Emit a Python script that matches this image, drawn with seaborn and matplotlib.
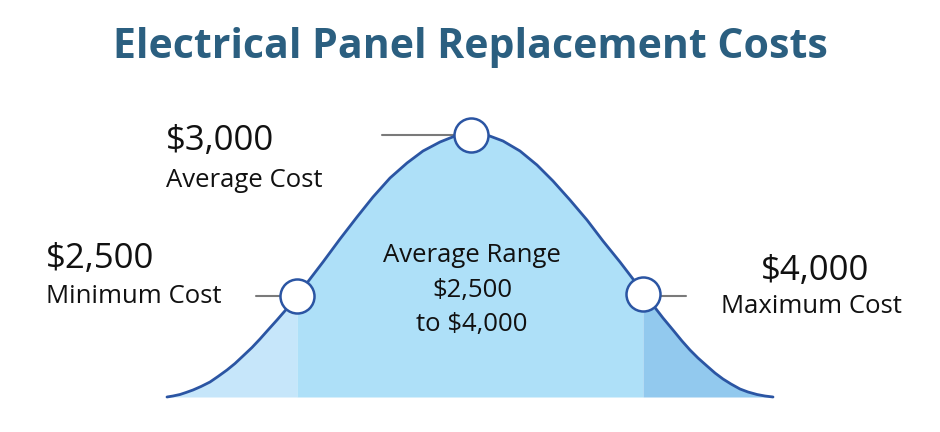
import matplotlib
matplotlib.use("Agg")
import matplotlib.pyplot as plt
import seaborn as sns
import pandas as pd

# bell curve (position along the base, height above base)
curve_x = [0, 6, 13, 19, 26, 34, 43, 51, 60, 68, 76, 85, 93, 101, 110, 120, 130,
           143, 156, 173, 190, 206, 223, 240, 256, 273, 288, 304,
           320, 336, 353, 370, 386, 403, 420, 436, 453, 466, 476,
           486, 496, 506, 515, 523, 531, 540, 548, 556, 564, 573, 581, 590, 598, 606]
curve_h = [0, 1, 2.5, 4.5, 7, 10.5, 15, 20.5, 27, 33.5, 41, 49.5, 58, 67, 77, 88.5, 101,
           118, 135, 158, 180, 200, 219, 234, 246, 255, 261, 263,
           262, 256, 246, 232, 216, 197, 177, 156, 135, 118, 105,
           92, 79, 67, 56, 47, 39, 31, 24, 18, 13, 8, 5, 2.5, 1, 0]

# marked points: minimum, average, maximum
point_x = [130, 304, 476]
point_h = [101, 262, 103]
prices = ["$2,500", "$3,000", "$4,000"]
labels = ["Minimum Cost", "Average Cost", "Maximum Cost"]
title = "Electrical Panel Replacement Costs"
range_text = "Average Range\n$2,500\nto $4,000"

line_col = "#2b55a3"
fill_left = "#c6e6fa"
fill_mid = "#aee0f8"
fill_right = "#92c9ee"
title_col = "#2b5f80"

sns.set_style("white")
plt.rcParams['font.family'] = ['Open Sans', 'DejaVu Sans']

df = pd.DataFrame({"x": curve_x, "h": curve_h})
pts = pd.DataFrame({"x": point_x, "h": point_h})

fig = plt.figure(figsize=(9.4, 4.32), dpi=100)
ax = fig.add_axes([0, 0, 1, 1])
ax.set_xlim(-167, 773)
ax.set_ylim(-35, 397)
ax.axis("off")

lo, hi = point_x[0], point_x[2]
ax.fill_between(df.x, 0, df.h, where=df.x <= lo, color=fill_left, lw=0)
ax.fill_between(df.x, 0, df.h, where=(df.x >= lo) & (df.x <= hi), color=fill_mid, lw=0)
ax.fill_between(df.x, 0, df.h, where=df.x >= hi, color=fill_right, lw=0)

sns.lineplot(data=df, x="x", y="h", ax=ax, color=line_col, lw=2, sort=False, zorder=3)

# leader lines
ax.plot([89, 114], [101, 101], color="#7a7a7a", lw=1.5, zorder=2)
ax.plot([215, 288], [262, 262], color="#7a7a7a", lw=1.5, zorder=2)
ax.plot([493, 519], [101, 101], color="#7a7a7a", lw=1.5, zorder=2)

sns.scatterplot(data=pts, x="x", y="h", ax=ax, s=600, color="white",
                edgecolor=line_col, linewidth=1.8, zorder=5, clip_on=False)
ax.set_xlabel("")
ax.set_ylabel("")

txt = dict(color="#111111", va="baseline")
ax.text(-121, 129, prices[0], fontsize=25, **txt)
ax.text(-121, 94, labels[0], fontsize=18.5, **txt)
ax.text(-1, 247, prices[1], fontsize=25, **txt)
ax.text(-1, 210, labels[1], fontsize=18.5, **txt)
ax.text(648, 117, prices[2], fontsize=25, ha="center", **txt)
ax.text(644, 84, labels[2], fontsize=18.5, ha="center", **txt)

for i, line in enumerate(range_text.split("\n")):
    ax.text(305, 135 - i * 34.5, line, fontsize=18.5, ha="center", **txt)

ax.text(303, 339, title, fontsize=29.5, fontweight="bold", color=title_col,
        ha="center", va="baseline")

fig.savefig("out.png", dpi=100)
